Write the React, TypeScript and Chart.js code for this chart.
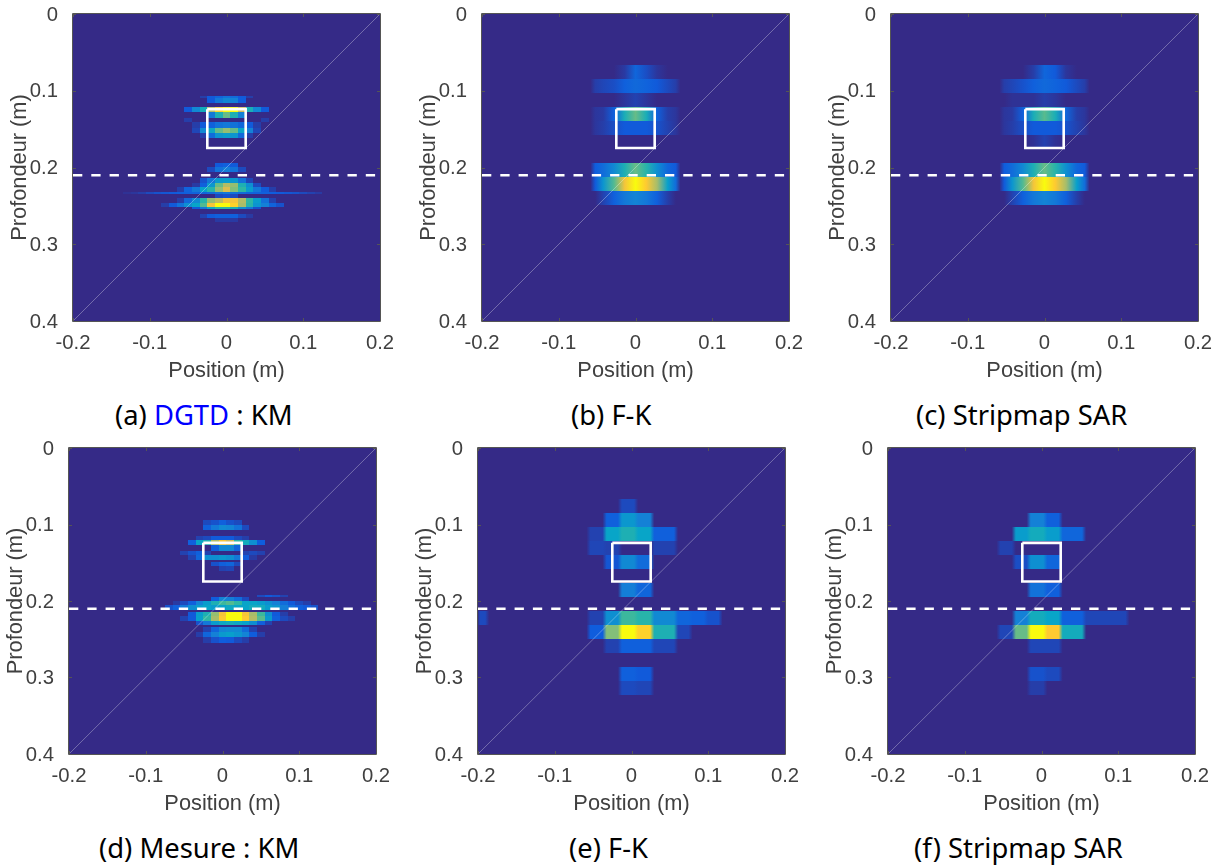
import React, { useEffect, useRef } from "react";
import { Chart, registerables } from "chart.js";

Chart.register(...registerables);

// ---------- shared values ----------
const xTickValues = [-0.2, -0.1, 0, 0.1, 0.2];
const xTickLabels = ["-0.2", "-0.1", "0", "0.1", "0.2"];
const yTickValues = [0, 0.1, 0.2, 0.3, 0.4];
const yTickLabels = ["0", "0.1", "0.2", "0.3", "0.4"];
const targetX = [-0.025, 0.025, 0.025, -0.025, -0.025];
const targetY = [0.124, 0.124, 0.1745, 0.1745, 0.124];
const interfaceDepth = 0.21;
const kmColumnStep = 0.01;
const parulaStops = ["#352a87", "#0f5cdd", "#1481d6", "#06a4ca", "#2eb7a4", "#87bf77", "#d1bb59", "#fec832", "#f9fb0e"];

// ---------- KM panels: [depth top, depth bottom, first column, intensities] ----------
type KmRow = [number, number, number, number[]];

const kmSimulated: KmRow[] = [
  [0.1068, 0.1094, -3, [5, 12, 16, 20, 18, 12, 5]],
  [0.1094, 0.1155, -2, [12, 22, 27, 25, 13]],
  [0.1212, 0.1281, -5, [12, 28, 42, 70, 90, 100, 100, 75, 44, 28, 12]],
  [0.1281, 0.135, -2, [22, 45, 58, 45, 25]],
  [0.135, 0.141, -5, [5, 0, 0, 0, 0, 0, 0, 0, 0, 0, 5]],
  [0.141, 0.148, -4, [5, 12, 14, 20, 22, 20, 16, 12, 5]],
  [0.148, 0.1549, -4, [7, 28, 40, 58, 65, 58, 38, 25, 7]],
  [0.1549, 0.1618, -3, [5, 18, 32, 35, 32, 17, 5]],
  [0.1943, 0.1996, -1, [12, 14, 12]],
  [0.1996, 0.2057, -2, [8, 20, 24, 20, 8]],
  [0.2139, 0.22, -3, [10, 22, 34, 35, 33, 20, 7]],
  [0.22, 0.2257, -4, [4, 14, 33, 58, 70, 65, 45, 30, 8]],
  [0.2257, 0.2314, -6, [5, 15, 22, 37, 48, 65, 78, 62, 50, 35, 22, 12, 5]],
  [0.2314, 0.234, -13, [2, 3, 5, 8, 10, 11, 12, 13, 14, 15, 16, 18, 20, 22, 20, 18, 16, 15, 14, 13, 12, 11, 10, 8, 6, 4]],
  [0.234, 0.2401, -1, [8, 10, 8]],
  [0.2401, 0.2458, -6, [5, 17, 28, 48, 65, 72, 85, 85, 70, 50, 35, 20, 6]],
  [0.2458, 0.251, -8, [5, 12, 20, 30, 38, 55, 85, 100, 100, 90, 68, 48, 32, 25, 15, 10]],
  [0.251, 0.2545, -4, [12, 22, 40, 50, 50, 45, 30, 22, 10]],
  [0.2601, 0.2654, -3, [6, 12, 14, 14, 14, 8, 4]],
  [0.2654, 0.2715, -1, [4, 4, 4]],
];

const kmMeasured: KmRow[] = [
  [0.0941, 0.1007, -2, [8, 10, 14, 10, 8]],
  [0.1007, 0.1072, -2, [14, 22, 28, 26, 20, 8]],
  [0.1151, 0.1203, -3, [6, 8, 12, 12, 12, 8, 5]],
  [0.1203, 0.1269, -4, [14, 38, 45, 70, 85, 75, 50, 42, 30, 13]],
  [0.1269, 0.1343, -1, [14, 28, 28, 16]],
  [0.1343, 0.14, -5, [6, 10, 14, 6, 0, 0, 0, 0, 6, 8, 6]],
  [0.14, 0.1466, -4, [6, 16, 30, 30, 33, 30, 22, 12, 4]],
  [0.1488, 0.1544, -1, [10, 14, 16, 8]],
  [0.1544, 0.1605, 0, [6, 7]],
  [0.1922, 0.1943, 5, [8, 12, 10, 6]],
  [0.1943, 0.1996, -1, [13, 26, 24, 18, 8]],
  [0.1996, 0.2052, -6, [4, 8, 14, 26, 35, 45, 52, 55, 50, 38, 38, 35, 30, 25, 18, 12, 8, 5]],
  [0.2052, 0.2113, -7, [10, 14, 22, 30, 35, 38, 35, 37, 40, 38, 38, 42, 42, 35, 32, 24, 18, 14, 12, 10]],
  [0.2139, 0.2196, -4, [12, 35, 45, 65, 85, 100, 100, 85, 68, 52, 30, 12, 5]],
  [0.2196, 0.2257, -5, [6, 12, 36, 50, 68, 88, 100, 100, 88, 70, 56, 34, 14, 8, 5]],
  [0.2257, 0.2313, -3, [10, 22, 35, 40, 42, 40, 37, 30, 14, 6]],
  [0.2337, 0.2402, -2, [6, 16, 26, 28, 28, 18, 6]],
  [0.2402, 0.2468, -3, [5, 16, 25, 34, 36, 32, 26, 13, 5]],
  [0.2468, 0.2546, -2, [5, 10, 13, 12, 8, 5]],
];

// ---------- smooth panels: column edges in metres, rows [depth top, depth bottom, intensities] ----------
type SmoothRow = [number, number, number[]];

const fkEdgesTop = [-0.056, -0.049, -0.035, -0.021, -0.007, 0.007, 0.021, 0.035, 0.049, 0.056];

const fkSimulated: SmoothRow[] = [
  [0.066, 0.0843, [0, 0, 0, 4, 16, 9, 3, 0, 0]],
  [0.0843, 0.1025, [5, 7, 9, 14, 17, 15, 12, 8, 5]],
  [0.1025, 0.1207, [0, 0, 0, 3, 6, 3, 0, 0, 0]],
  [0.1207, 0.139, [3, 4, 14, 44, 58, 44, 14, 5, 3]],
  [0.139, 0.1572, [3, 5, 9, 12, 12, 12, 10, 6, 3]],
  [0.1937, 0.212, [13, 18, 28, 45, 58, 48, 30, 16, 12]],
  [0.212, 0.2302, [12, 32, 55, 85, 100, 88, 68, 36, 18]],
  [0.2302, 0.2484, [0, 6, 14, 22, 26, 22, 14, 5, 0]],
];

const sarSimulated: SmoothRow[] = [
  [0.066, 0.0843, [0, 0, 0, 5, 16, 12, 3, 0, 0]],
  [0.0843, 0.1025, [5, 7, 10, 14, 17, 15, 12, 8, 5]],
  [0.1025, 0.1207, [0, 2, 2, 2, 5, 3, 0, 0, 0]],
  [0.1207, 0.139, [3, 4, 14, 44, 56, 44, 16, 5, 3]],
  [0.139, 0.1572, [3, 5, 9, 12, 12, 12, 10, 6, 3]],
  [0.1572, 0.1755, [0, 0, 0, 2, 6, 2, 0, 0, 0]],
  [0.1937, 0.212, [13, 18, 28, 45, 58, 48, 30, 16, 12]],
  [0.212, 0.2302, [12, 32, 55, 85, 100, 88, 68, 36, 18]],
  [0.2302, 0.2484, [0, 6, 14, 22, 26, 22, 14, 5, 0]],
];

const fkEdgesMeasured = [-0.2, -0.188, -0.056, -0.035, -0.015, 0.006, 0.027, 0.058, 0.077, 0.097, 0.116];

const fkMeasured: SmoothRow[] = [
  [0.0667, 0.085, [0, 0, 0, 0, 8, 0, 0, 0, 0, 0]],
  [0.085, 0.1033, [0, 0, 0, 14, 33, 25, 0, 0, 0, 0]],
  [0.1033, 0.1216, [0, 0, 6, 38, 45, 38, 14, 0, 0, 0]],
  [0.1216, 0.1399, [0, 0, 7, 6, 0, 0, 6, 0, 0, 0]],
  [0.1399, 0.1582, [0, 0, 0, 11, 28, 18, 0, 0, 0, 0]],
  [0.1765, 0.1948, [0, 0, 0, 0, 24, 16, 0, 0, 0, 0]],
  [0.2131, 0.2314, [8, 0, 6, 30, 52, 48, 28, 16, 14, 10]],
  [0.2314, 0.2497, [0, 0, 13, 62, 100, 90, 45, 7, 0, 0]],
  [0.2497, 0.268, [0, 0, 0, 6, 14, 14, 7, 0, 0, 0]],
  [0.2863, 0.3046, [0, 0, 0, 0, 14, 12, 0, 0, 0, 0]],
  [0.3046, 0.3229, [0, 0, 0, 0, 8, 7, 0, 0, 0, 0]],
];

const sarEdgesMeasured = [-0.056, -0.036, -0.0166, 0.005, 0.025, 0.0555, 0.077, 0.112];

const sarMeasured: SmoothRow[] = [
  [0.0854, 0.1037, [0, 0, 25, 14, 0, 0, 0]],
  [0.1037, 0.122, [0, 35, 42, 35, 16, 0, 0]],
  [0.122, 0.1403, [6, 0, 0, 0, 0, 0, 0]],
  [0.1403, 0.1586, [0, 9, 30, 16, 0, 0, 0]],
  [0.1769, 0.1952, [0, 0, 20, 14, 0, 0, 0]],
  [0.2135, 0.2318, [0, 25, 42, 38, 14, 7, 7]],
  [0.2318, 0.2501, [7, 58, 100, 88, 42, 0, 0]],
  [0.2501, 0.2684, [0, 0, 7, 7, 0, 0, 0]],
  [0.2867, 0.305, [0, 0, 10, 8, 0, 0, 0]],
  [0.305, 0.3233, [0, 0, 5, 0, 0, 0, 0]],
];

// ---------- colour map ----------
function hexToRgb(h: string) {
  return [parseInt(h.slice(1, 3), 16), parseInt(h.slice(3, 5), 16), parseInt(h.slice(5, 7), 16)];
}
function parula(v: number) {
  const t = Math.max(0, Math.min(1, v / 100)) * (parulaStops.length - 1);
  const i = Math.min(parulaStops.length - 2, Math.floor(t));
  const f = t - i;
  const a = hexToRgb(parulaStops[i]);
  const b = hexToRgb(parulaStops[i + 1]);
  return `rgb(${a.map((c, j) => Math.round(c + (b[j] - c) * f)).join(",")})`;
}

// ---------- heat map plugin (all positions go through the chart's scales) ----------
const heatPlugin = {
  id: "heat",
  beforeDatasetsDraw(chart: any, _a: any, opts: any) {
    const { ctx, chartArea: ca, scales } = chart;
    const { x, y } = scales;
    ctx.save();
    ctx.fillStyle = parulaStops[0];
    ctx.fillRect(ca.left, ca.top, ca.width, ca.height);
    if (opts.km) {
      for (const [top, bottom, first, vals] of opts.km as KmRow[]) {
        const y0 = Math.round(y.getPixelForValue(top));
        const y1 = Math.round(y.getPixelForValue(bottom));
        vals.forEach((v, i) => {
          if (!v) return;
          const k = first + i;
          const x0 = Math.round(x.getPixelForValue((k - 0.5) * kmColumnStep));
          const x1 = Math.round(x.getPixelForValue((k + 0.5) * kmColumnStep));
          ctx.fillStyle = parula(v);
          ctx.fillRect(x0, y0, x1 - x0, y1 - y0);
        });
      }
    }
    if (opts.rows) {
      const edges: number[] = opts.edges;
      const soft: number = opts.soft;
      for (const [top, bottom, vals] of opts.rows as SmoothRow[]) {
        const y0 = Math.round(y.getPixelForValue(top));
        const y1 = Math.round(y.getPixelForValue(bottom));
        const g = ctx.createLinearGradient(ca.left, 0, ca.right, 0);
        const add = (px: number, color: string) => {
          const f = Math.max(0, Math.min(1, (px - ca.left) / ca.width));
          g.addColorStop(f, color);
        };
        const first = x.getPixelForValue(edges[0]);
        const last = x.getPixelForValue(edges[edges.length - 1]);
        add(first - 2, parula(0));
        vals.forEach((v, i) => {
          const a = x.getPixelForValue(edges[i]);
          const b = x.getPixelForValue(edges[i + 1]);
          const c = (a + b) / 2;
          const h = Math.max(0, (b - a) / 2 - soft);
          add(c - h, parula(v));
          add(c + h, parula(v));
        });
        add(last + 2, parula(0));
        ctx.fillStyle = g;
        ctx.fillRect(ca.left, y0, ca.width, y1 - y0);
      }
    }
    ctx.restore();
  },
  afterDatasetsDraw(chart: any) {
    const { ctx, chartArea: ca, scales } = chart;
    ctx.save();
    ctx.strokeStyle = "#555555";
    ctx.lineWidth = 1;
    ctx.beginPath();
    ctx.rect(ca.left - 0.5, ca.top - 0.5, ca.width + 1, ca.height + 1);
    for (const t of scales.x.ticks) {
      const p = Math.round(scales.x.getPixelForValue(t.value)) + 0.5;
      ctx.moveTo(p, ca.bottom);
      ctx.lineTo(p, ca.bottom - 3);
      ctx.moveTo(p, ca.top);
      ctx.lineTo(p, ca.top + 3);
    }
    for (const t of scales.y.ticks) {
      const p = Math.round(scales.y.getPixelForValue(t.value)) + 0.5;
      ctx.moveTo(ca.left, p);
      ctx.lineTo(ca.left + 3, p);
      ctx.moveTo(ca.right, p);
      ctx.lineTo(ca.right - 3, p);
    }
    ctx.stroke();
    ctx.restore();
  },
};

// ---------- layout ----------
const MARGIN_LEFT = 70;
const MARGIN_RIGHT = 16;
const MARGIN_TOP = 14;
const MARGIN_BOTTOM = 65;
const TICK_FONT = { family: "'Liberation Sans'", size: 20.3 };
const TITLE_FONT = { family: "'Liberation Sans'", size: 21.8 };
const TEXT_COLOR = "#404040";

type Panel = {
  l: number; t: number; r: number; b: number;
  km?: KmRow[];
  rows?: SmoothRow[];
  edges?: number[];
  soft?: number;
};

const panels: Panel[] = [
  { l: 73, t: 14, r: 380, b: 321, km: kmSimulated },
  { l: 482, t: 14, r: 789, b: 321, rows: fkSimulated, edges: fkEdgesTop, soft: 1000 },
  { l: 891, t: 14, r: 1198, b: 321, rows: sarSimulated, edges: fkEdgesTop, soft: 1000 },
  { l: 69, t: 448, r: 376, b: 754, km: kmMeasured },
  { l: 478, t: 448, r: 785, b: 754, rows: fkMeasured, edges: fkEdgesMeasured, soft: 2 },
  { l: 888, t: 448, r: 1195, b: 754, rows: sarMeasured, edges: sarEdgesMeasured, soft: 2 },
];

const captions = [
  { left: 115, top: 397, parts: [["(a) ", "#000"], ["DGTD", "#0000ff"], [" : KM", "#000"]] },
  { left: 571, top: 397, parts: [["(b) F-K", "#000"]] },
  { left: 916, top: 397, parts: [["(c) Stripmap SAR", "#000"]] },
  { left: 99, top: 830, parts: [["(d) Mesure : KM", "#000"]] },
  { left: 569, top: 830, parts: [["(e) F-K", "#000"]] },
  { left: 914, top: 830, parts: [["(f) Stripmap SAR", "#000"]] },
];

function zeroPadding(s: any) {
  s.paddingTop = 0;
  s.paddingBottom = 0;
  s.paddingLeft = 0;
  s.paddingRight = 0;
}

function HeatPanel({ panel }: { panel: Panel }) {
  const ref = useRef<HTMLCanvasElement>(null);
  useEffect(() => {
    const chart = new Chart(ref.current as HTMLCanvasElement, {
      type: "scatter",
      data: {
        datasets: [
          {
            data: [{ x: -0.2, y: 0.4 }, { x: 0.2, y: 0 }],
            showLine: true,
            borderColor: "rgba(255,255,255,0.45)",
            borderWidth: 0.7,
            pointRadius: 0,
          },
          {
            data: [{ x: -0.2, y: interfaceDepth }, { x: 0.2, y: interfaceDepth }],
            showLine: true,
            borderColor: "#ffffff",
            borderWidth: 2.5,
            borderDash: [9.3, 9],
            pointRadius: 0,
          },
          {
            data: targetX.map((x, i) => ({ x, y: targetY[i] })),
            showLine: true,
            borderColor: "#ffffff",
            borderWidth: 2.6,
            pointRadius: 0,
          },
        ],
      },
      plugins: [heatPlugin],
      options: {
        animation: false,
        responsive: false,
        layout: { padding: { top: MARGIN_TOP, right: MARGIN_RIGHT, left: 0, bottom: 0 } },
        plugins: {
          legend: { display: false },
          tooltip: { enabled: false },
          heat: { km: panel.km, rows: panel.rows, edges: panel.edges, soft: panel.soft },
        } as any,
        scales: {
          x: {
            type: "linear",
            min: -0.2,
            max: 0.2,
            afterBuildTicks: (s: any) => { s.ticks = xTickValues.map((value) => ({ value })); },
            afterFit: (s: any) => { s.height = MARGIN_BOTTOM; zeroPadding(s); },
            grid: { display: false },
            border: { display: false },
            ticks: {
              autoSkip: false,
              maxRotation: 0,
              color: TEXT_COLOR,
              font: TICK_FONT,
              padding: 2,
              callback: (_v: any, i: number) => xTickLabels[i],
            },
            title: {
              display: true,
              text: "Position (m)",
              color: TEXT_COLOR,
              font: TITLE_FONT,
              padding: { top: 0, bottom: 2 },
            },
          },
          y: {
            type: "linear",
            reverse: true,
            min: 0,
            max: 0.4,
            afterBuildTicks: (s: any) => { s.ticks = yTickValues.map((value) => ({ value })); },
            afterFit: (s: any) => { s.width = MARGIN_LEFT; zeroPadding(s); },
            grid: { display: false },
            border: { display: false },
            ticks: {
              color: TEXT_COLOR,
              font: TICK_FONT,
              padding: 7,
              labelOffset: 1,
              callback: (_v: any, i: number) => yTickLabels[i],
            },
            title: {
              display: true,
              text: "Profondeur (m)",
              color: TEXT_COLOR,
              font: TITLE_FONT,
              padding: { top: 4, bottom: 0 },
            },
          },
        },
      } as any,
    });
    return () => chart.destroy();
  }, [panel]);
  const w = MARGIN_LEFT + (panel.r - panel.l) + MARGIN_RIGHT;
  const h = MARGIN_TOP + (panel.b - panel.t) + MARGIN_BOTTOM;
  return (
    <canvas
      ref={ref}
      width={w}
      height={h}
      style={{ position: "absolute", left: panel.l - MARGIN_LEFT, top: panel.t - MARGIN_TOP, width: w, height: h }}
    />
  );
}

export default function App() {
  return (
    <div style={{ position: "absolute", left: 0, top: 0, width: 1224, height: 868, background: "#fff", overflow: "hidden" }}>
      {panels.map((p, i) => (
        <HeatPanel key={i} panel={p} />
      ))}
      {captions.map((c, i) => (
        <div
          key={i}
          style={{
            position: "absolute",
            left: c.left,
            top: c.top,
            fontFamily: "'Noto Sans'",
            fontSize: 27.4,
            lineHeight: "36px",
            whiteSpace: "pre",
          }}
        >
          {c.parts.map(([text, color], j) => (
            <span key={j} style={{ color }}>{text}</span>
          ))}
        </div>
      ))}
    </div>
  );
}
